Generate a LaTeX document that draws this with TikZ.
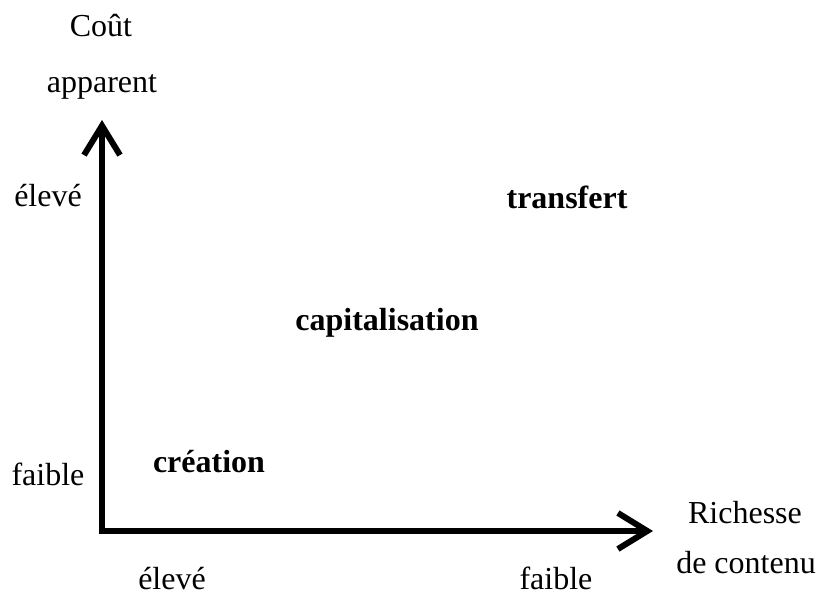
\documentclass[tikz,border=0pt]{standalone}
\usepackage{fontspec}
\setmainfont{Liberation Serif}
\usetikzlibrary{arrows.meta}

\begin{document}
\begin{tikzpicture}
[x=0.75pt, y=-0.75pt,
lbl/.style={font=\fontsize{24}{28}\selectfont, inner sep=0pt, anchor=base},
zone/.style={font=\fontsize{24}{28}\selectfont\bfseries, inner sep=0pt, anchor=base},
axe/.style={line width=4.5pt, line join=miter, {Straight Barb[length=22pt,width=27pt]}-{Straight Barb[length=22pt,width=27pt]}}]

	\useasboundingbox (0,0) rectangle (816,597);

	\coordinate (o) at (102,531);
	\coordinate (ytop) at (102,120);
	\coordinate (xend) at (653,531);

	\draw[axe] (ytop) -- (o) -- (xend);

	% axe vertical
	\node (cout) at (101,36) [lbl]{Coût};
	\node (app) at (102,92) [lbl]{apparent};
	\node (yhi) at (48,206) [lbl]{élevé};
	\node (ylo) at (48,485) [lbl]{faible};

	% axe horizontal
	\node (xhi) at (172,589) [lbl]{élevé};
	\node (xlo) at (556,589) [lbl]{faible};
	\node (rich) at (745,523) [lbl]{Richesse};
	\node (cont) at (746,573) [lbl]{de contenu};

	\node (trans) at (567,208) [zone]{transfert};
	\node (capi) at (387,330) [zone]{capitalisation};
	\node (crea) at (209,472) [zone]{création};

\end{tikzpicture}
\end{document}
